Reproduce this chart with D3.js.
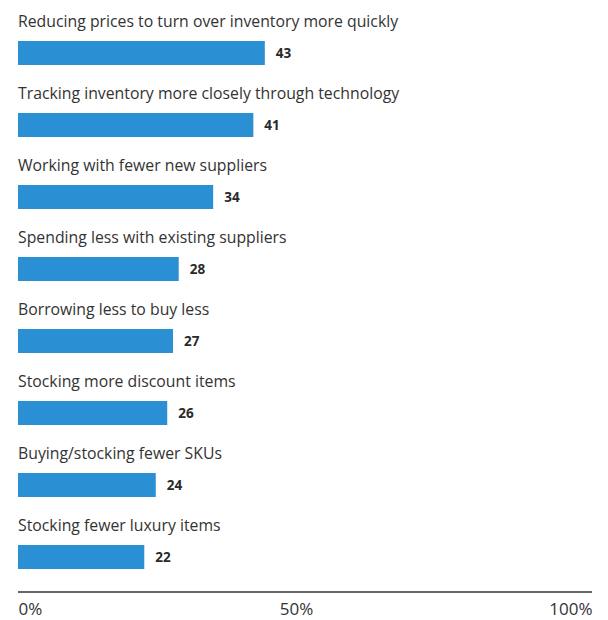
<!DOCTYPE html>
<html>
<head>
<meta charset="utf-8">
<script src="https://cdn.jsdelivr.net/npm/d3@7"></script>
<style>
  html, body { margin: 0; padding: 0; background: #fff; }
  svg { display: block; }
</style>
</head>
<body>
<svg id="chart" width="608" height="620"></svg>
<script>
// Survey responses: share of respondents (%) per inventory tactic
const categories = [
  "Reducing prices to turn over inventory more quickly",
  "Tracking inventory more closely through technology",
  "Working with fewer new suppliers",
  "Spending less with existing suppliers",
  "Borrowing less to buy less",
  "Stocking more discount items",
  "Buying/stocking fewer SKUs",
  "Stocking fewer luxury items"
];
const values = [43, 41, 34, 28, 27, 26, 24, 22];
const tickValues = [0, 50, 100];
const tickLabels = ["0%", "50%", "100%"];

const svg = d3.select("#chart");
const font = "'Open Sans', 'Noto Sans', sans-serif";

const x = d3.scaleLinear().domain([0, 100]).range([18, 592]);
const y = d3.scaleBand().domain(categories).range([41, 617]).paddingInner(0).paddingOuter(0);
const barH = 24;

const rows = svg.selectAll("g.row")
  .data(categories.map((c, i) => ({ c, v: values[i] })))
  .join("g")
  .attr("class", "row");

// Category label above each bar
rows.append("text")
  .attr("x", x(0))
  .attr("y", d => y(d.c) - 14)
  .attr("font-family", font)
  .attr("font-size", 15.8)
  .attr("fill", "#333")
  .text(d => d.c);

// Bars
rows.append("rect")
  .attr("x", x(0))
  .attr("y", d => y(d.c))
  .attr("width", d => x(d.v) - x(0))
  .attr("height", barH)
  .attr("fill", "#2b8fd3");

// Value labels
rows.append("text")
  .attr("x", d => x(d.v) + 11)
  .attr("y", d => y(d.c) + barH / 2)
  .attr("dy", "0.36em")
  .attr("font-family", font)
  .attr("font-size", 13.5)
  .attr("font-weight", "bold")
  .attr("fill", "#2a2a2a")
  .text(d => d.v);

// Bottom axis
const axis = d3.axisBottom(x)
  .tickValues(tickValues)
  .tickSize(0)
  .tickPadding(0)
  .tickFormat((d, i) => tickLabels[i]);

const gAxis = svg.append("g")
  .attr("transform", "translate(0,592)")
  .call(axis);

gAxis.select(".domain")
  .attr("d", `M${x(0)},0H${x(100)}`)
  .attr("stroke", "#666")
  .attr("stroke-width", 2);

gAxis.selectAll(".tick text")
  .attr("font-family", font)
  .attr("font-size", 17)
  .attr("fill", "#333")
  .attr("y", 23)
  .attr("dy", 0)
  .attr("text-anchor", (d, i) => i === 0 ? "start" : i === tickValues.length - 1 ? "end" : "middle")
  .attr("dx", (d, i) => i === 0 || i === tickValues.length - 1 ? 0 : -9);
</script>
</body>
</html>
